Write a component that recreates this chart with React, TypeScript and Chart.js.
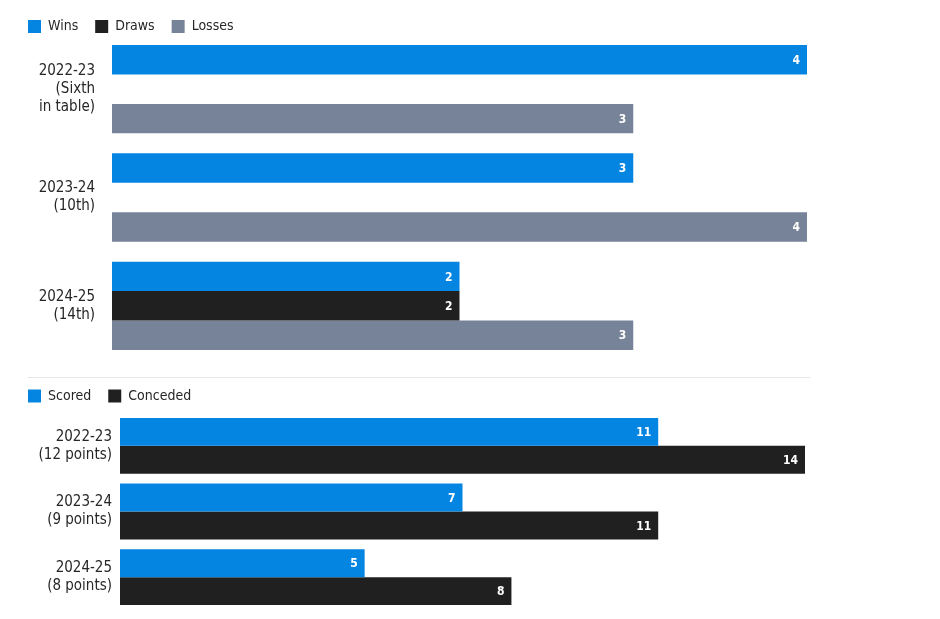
import React, { useEffect, useRef } from "react";
import { Chart, registerables } from "chart.js";

Chart.register(...registerables);

// ---- Data ----
const topCategories = [["2022-23", "(Sixth", "in table)"], ["2023-24", "(10th)"], ["2024-25", "(14th)"]];
const wins = [4, 3, 2];
const draws = [0, 0, 2];
const losses = [3, 4, 3];

const bottomCategories = [["2022-23", "(12 points)"], ["2023-24", "(9 points)"], ["2024-25", "(8 points)"]];
const scored = [11, 7, 5];
const conceded = [14, 11, 8];

// ---- Styles ----
const FONT = "'DejaVu Sans Condensed', 'Roboto', sans-serif";
const BLUE = "#0585e2";
const DARK = "#202020";
const GREY = "#778398";
const TEXT = "#262626";

const valueLabels = {
  id: "valueLabels",
  afterDatasetsDraw(chart: any) {
    const ctx = chart.ctx;
    ctx.save();
    ctx.font = `bold 12px ${FONT}`;
    ctx.fillStyle = "#ffffff";
    ctx.textAlign = "right";
    ctx.textBaseline = "middle";
    chart.data.datasets.forEach((ds: any, i: number) => {
      const meta = chart.getDatasetMeta(i);
      meta.data.forEach((bar: any, j: number) => {
        const v = ds.data[j];
        if (!v) return;
        ctx.fillText(String(v), bar.x - 7, bar.y + 1);
      });
    });
    ctx.restore();
  },
};

function legendHeightPlugin(h: number) {
  return {
    id: "legendHeight",
    beforeInit(chart: any) {
      const legend = chart.legend;
      if (!legend) return;
      const orig = legend.fit;
      legend.fit = function () {
        orig.call(this);
        this.height = h;
      };
    },
  };
}

function makeOptions(max: number, pad: any, yWidth: number, tickPad: number) {
  return {
    responsive: false,
    animation: false as const,
    indexAxis: "y" as const,
    layout: { padding: pad },
    plugins: {
      tooltip: { enabled: false },
      legend: {
        position: "top" as const,
        align: "start" as const,
        labels: {
          boxWidth: 13,
          boxHeight: 13,
          padding: 17,
          color: TEXT,
          font: { family: FONT, size: 14 },
        },
      },
    },
    scales: {
      x: { display: false, min: 0, max },
      y: {
        grid: { display: false, drawTicks: false },
        border: { display: false },
        ticks: {
          color: TEXT,
          padding: tickPad,
          font: { family: FONT, size: 15, lineHeight: 1.2 },
        },
        afterFit(scale: any) {
          scale.width = yWidth;
          scale.paddingTop = 0;
          scale.paddingBottom = 0;
        },
      },
    },
  };
}

export default function App() {
  const topRef = useRef<HTMLCanvasElement>(null);
  const botRef = useRef<HTMLCanvasElement>(null);

  useEffect(() => {
    const top = new Chart(topRef.current!, {
      type: "bar",
      data: {
        labels: topCategories as any,
        datasets: [
          { label: "Wins", data: wins, backgroundColor: BLUE, borderWidth: 0, barPercentage: 1, categoryPercentage: 0.815 },
          { label: "Draws", data: draws, backgroundColor: DARK, borderWidth: 0, barPercentage: 1, categoryPercentage: 0.815 },
          { label: "Losses", data: losses, backgroundColor: GREY, borderWidth: 0, barPercentage: 1, categoryPercentage: 0.815 },
        ],
      },
      options: makeOptions(4, { left: 11, right: 13, top: 2.5, bottom: 0 }, 101, 17) as any,
      plugins: [valueLabels, legendHeightPlugin(32.5)],
    });
    const bot = new Chart(botRef.current!, {
      type: "bar",
      data: {
        labels: bottomCategories as any,
        datasets: [
          { label: "Scored", data: scored, backgroundColor: BLUE, borderWidth: 0, barPercentage: 1, categoryPercentage: 0.85 },
          { label: "Conceded", data: conceded, backgroundColor: DARK, borderWidth: 0, barPercentage: 1, categoryPercentage: 0.85 },
        ],
      },
      options: makeOptions(14, { left: 11, right: 15, top: 2, bottom: 0 }, 109, 8) as any,
      plugins: [valueLabels, legendHeightPlugin(41)],
    });
    return () => {
      top.destroy();
      bot.destroy();
    };
  }, []);

  return (
    <div style={{ position: "absolute", left: 0, top: 0, width: 940, height: 619, background: "#fff" }}>
      <canvas ref={topRef} width={820} height={360} style={{ position: "absolute", left: 0, top: 0 }} />
      <div style={{ position: "absolute", left: 28, top: 377, width: 782, height: 1, background: "#e6e6e6" }} />
      <canvas ref={botRef} width={820} height={240} style={{ position: "absolute", left: 0, top: 370 }} />
    </div>
  );
}
